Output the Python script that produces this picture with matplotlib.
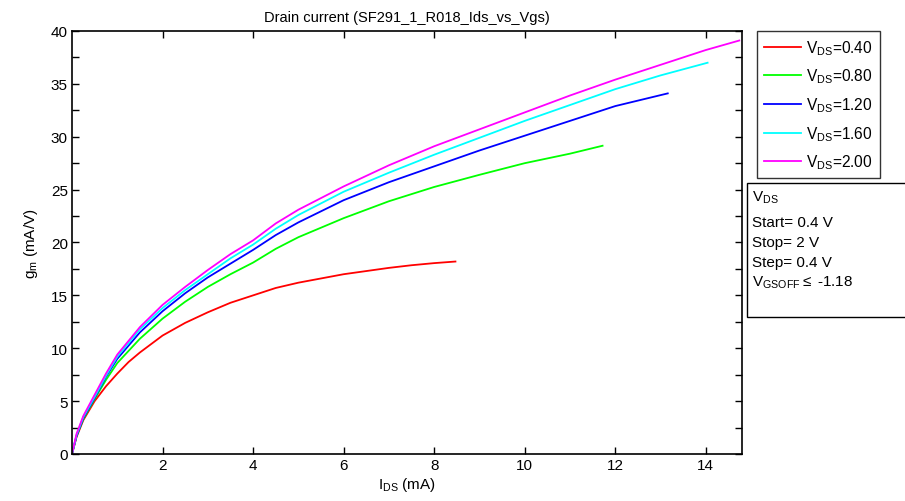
import matplotlib
matplotlib.use("Agg")
import matplotlib.pyplot as plt
from matplotlib.patches import Rectangle
from matplotlib.ticker import MultipleLocator

plt.rcParams['font.family'] = ['Liberation Sans', 'DejaVu Sans']
plt.rcParams['mathtext.fontset'] = 'custom'
plt.rcParams['mathtext.rm'] = 'Liberation Sans'
plt.rcParams['mathtext.it'] = 'Liberation Sans'

# ---- data ----
x_04 = [0, 0.1, 0.25, 0.5, 0.75, 1, 1.25, 1.5, 2, 2.5, 3, 3.5, 4, 4.5, 5, 5.5, 6, 6.5, 7, 7.5, 8, 8.47]
gm_04 = [0, 1.6, 3.2, 5.0, 6.4, 7.6, 8.7, 9.6, 11.2, 12.4, 13.4, 14.3, 15.0, 15.7, 16.2, 16.6, 17.0, 17.3, 17.6, 17.85, 18.05, 18.2]

x_08 = [0, 0.1, 0.25, 0.5, 0.75, 1, 1.5, 2, 2.5, 3, 3.5, 4, 4.5, 5, 6, 7, 8, 9, 10, 11, 11.72]
gm_08 = [0, 1.7, 3.3, 5.2, 7.0, 8.6, 10.9, 12.8, 14.4, 15.8, 17.0, 18.1, 19.4, 20.5, 22.3, 23.9, 25.25, 26.4, 27.5, 28.4, 29.15]

x_12 = [0, 0.1, 0.25, 0.5, 0.75, 1, 1.5, 2, 2.5, 3, 3.5, 4, 4.5, 5, 6, 7, 8, 9, 10, 11, 12, 13.16]
gm_12 = [0, 1.7, 3.4, 5.3, 7.3, 9.0, 11.5, 13.5, 15.2, 16.7, 18.0, 19.3, 20.7, 21.9, 24.0, 25.7, 27.2, 28.7, 30.1, 31.5, 32.9, 34.1]

x_16 = [0, 0.1, 0.25, 0.5, 0.75, 1, 1.5, 2, 2.5, 3, 3.5, 4, 4.5, 5, 6, 7, 8, 9, 10, 11, 12, 13, 14.04]
gm_16 = [0, 1.8, 3.5, 5.4, 7.4, 9.2, 11.8, 13.8, 15.5, 17.0, 18.5, 19.8, 21.3, 22.6, 24.8, 26.6, 28.3, 29.9, 31.5, 33.0, 34.5, 35.8, 37.0]

x_20 = [0, 0.1, 0.25, 0.5, 0.75, 1, 1.5, 2, 2.5, 3, 3.5, 4, 4.5, 5, 6, 7, 8, 9, 10, 11, 12, 13, 14, 14.74]
gm_20 = [0, 1.9, 3.6, 5.6, 7.6, 9.4, 12.0, 14.1, 15.8, 17.4, 18.9, 20.2, 21.8, 23.1, 25.3, 27.3, 29.1, 30.7, 32.3, 33.9, 35.4, 36.8, 38.2, 39.1]

labels = ['0.40', '0.80', '1.20', '1.60', '2.00']
colors = ['#ff0000', '#00ff00', '#0000ff', '#00ffff', '#ff00ff']
xticks = [2, 4, 6, 8, 10, 12, 14]
yticks = [0, 5, 10, 15, 20, 25, 30, 35, 40]

info_lines = ['Start= 0.4 V', 'Stop= 2 V', 'Step= 0.4 V']

# ---- figure ----
W, H = 905, 502
fig = plt.figure(figsize=(W / 100, H / 100), dpi=100)
ax = fig.add_axes([72 / W, 1 - 455 / H, (742 - 72) / W, (455 - 32) / H])

series = [(x_04, gm_04), (x_08, gm_08), (x_12, gm_12), (x_16, gm_16), (x_20, gm_20)]
handles = []
for (xs, ys), lab, c in zip(series, labels, colors):
    h, = ax.plot(xs, ys, color=c, lw=1.3, label=r'V$_{\mathregular{DS}}$=' + lab)
    handles.append(h)

ax.set_xlim(0, 14.8)
ax.set_ylim(0, 40)
ax.set_xticks(xticks)
ax.set_yticks(yticks)
ax.yaxis.set_minor_locator(MultipleLocator(2.5))
ax.tick_params(which='both', direction='in', top=True, right=True, length=5,
               width=1, labelsize=11, pad=3)
for s in ax.spines.values():
    s.set_linewidth(1.2)

ax.set_title('Drain current (SF291_1_R018_Ids_vs_Vgs)', fontsize=10.5, pad=7)
ax.set_xlabel(r'I$_{\mathregular{DS}}$ (mA)', fontsize=11, labelpad=2)
ax.set_ylabel(r'g$_{\mathregular{m}}$ (mA/V)', fontsize=11, labelpad=8)

leg = fig.legend(handles=handles, loc='upper left',
                 bbox_to_anchor=(757 / W, 1 - 32 / H), fontsize=11.2,
                 frameon=True, fancybox=False, edgecolor='black',
                 handlelength=2.4, handletextpad=0.3, labelspacing=0.64,
                 borderpad=0.45, borderaxespad=0)
leg.get_frame().set_linewidth(1.0)

# info box
rect = Rectangle((747 / W, 1 - 318 / H), (915 - 747) / W, (318 - 184) / H,
                 transform=fig.transFigure, facecolor='white', edgecolor='black',
                 lw=1.0, clip_on=False)
fig.patches.append(rect)
fig.text(752 / W, 1 - 198 / H, r'V$_{\mathregular{DS}}$', fontsize=11, va='center', ha='left')
for i, t in enumerate(info_lines):
    fig.text(752 / W, 1 - (223 + 20 * i) / H, t, fontsize=11, va='center', ha='left')
fig.text(752 / W, 1 - 283 / H, r'V$_{\mathregular{GSOFF}}$$\leq$ -1.18', fontsize=11,
         va='center', ha='left')

fig.savefig('out.png', dpi=100)
